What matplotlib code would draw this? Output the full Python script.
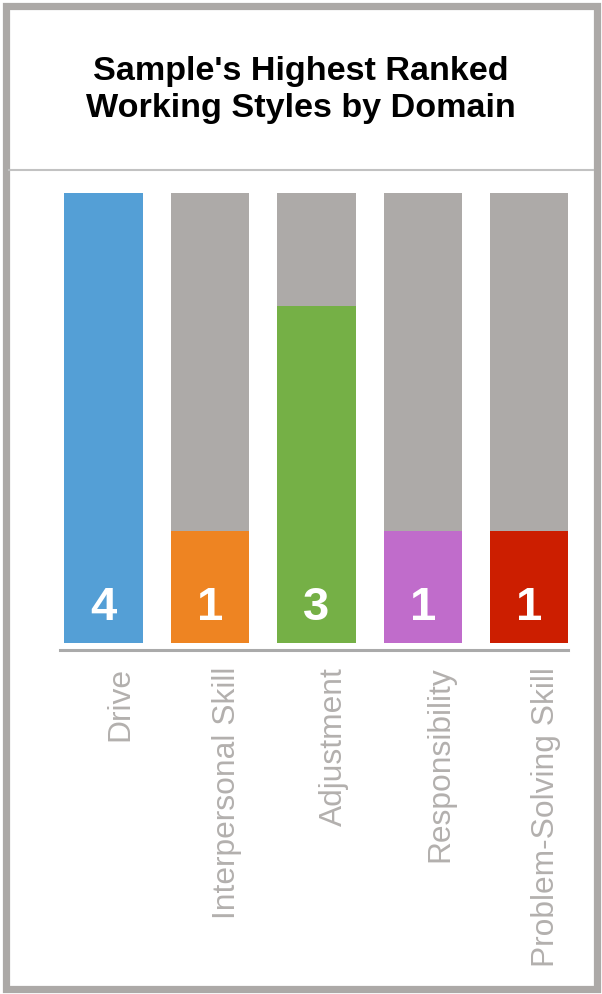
import matplotlib.pyplot as plt
from matplotlib.patches import Rectangle
from matplotlib.lines import Line2D
from matplotlib.transforms import ScaledTranslation

domains = ['Drive', 'Interpersonal Skill', 'Adjustment', 'Responsibility', 'Problem-Solving Skill']
counts = [4, 1, 3, 1, 1]
max_count = 4
colors = ['#549fd6', '#ee8422', '#75b046', '#c06ccb', '#cc1e00']
back_color = '#adaaa8'

W, H = 602, 994
fig = plt.figure(figsize=(W / 100, H / 100), dpi=100)
fig.patch.set_facecolor('white')

# outer frame
fig.patches.append(Rectangle((5.5 / W, 5.5 / H), 1 - 11 / W, 1 - 11 / H,
                             transform=fig.transFigure, fill=False,
                             edgecolor='#aca9a7', linewidth=5.2))
# separator under the title
fig.lines.append(Line2D([9 / W, 593 / W], [1 - 170 / H, 1 - 170 / H],
                        transform=fig.transFigure, color='#c2c2c2', linewidth=1.5))

fig.text(0.5, 1 - 90 / H, "Sample's Highest Ranked\nWorking Styles by Domain",
         ha='center', va='center', fontsize=24.6, fontweight='bold',
         family='Liberation Sans', linespacing=1.27)

ax = fig.add_axes([60 / W, 1 - 650 / H, 508 / W, 457 / H])
ax.set_xlim(-0.408, -0.408 + 508 / 106.5)
ax.set_ylim(-7 / 112.5, 4)

x = list(range(len(domains)))
ax.bar(x, [max_count] * len(x), width=0.74, color=back_color)
ax.bar(x, counts, width=0.74, color=colors)
for i, c in enumerate(counts):
    ax.text(i, 0.204, str(c), ha='center', va='baseline', color='white',
            fontsize=34, fontweight='bold', family='Liberation Sans')

for s in ['top', 'left', 'right']:
    ax.spines[s].set_visible(False)
ax.spines['bottom'].set_color('#aaaaaa')
ax.spines['bottom'].set_linewidth(2.2)
ax.set_yticks([])
ax.set_xticks(x)
ax.set_xticklabels(domains, rotation=90, ha='left', va='top',
                   color='#b3b0ae', fontsize=22.9, family='Liberation Sans')
ax.tick_params(axis='x', length=0, pad=12)
shift = ScaledTranslation(2 / 100, 0, fig.dpi_scale_trans)
for lab in ax.get_xticklabels():
    lab.set_transform(lab.get_transform() + shift)

fig.savefig('out.png', dpi=100)
